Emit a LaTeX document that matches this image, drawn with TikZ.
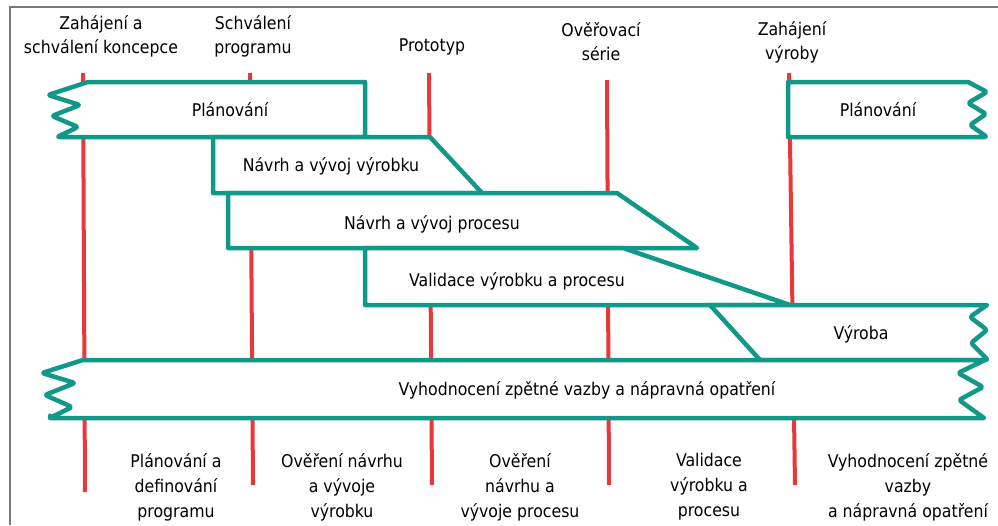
\documentclass[tikz,border=0pt]{standalone}
\usepackage{fontspec}
\setmainfont{DejaVu Sans Condensed}
\definecolor{bandgreen}{RGB}{18,152,136}
\definecolor{msred}{RGB}{232,56,58}
\definecolor{frame}{RGB}{120,120,120}
\begin{document}
\begin{tikzpicture}[x=1pt,y=-1pt,
  band/.style={draw=bandgreen, line width=4.5pt, fill=white, line join=round},
  zig/.style={rounded corners=2.5pt},
  milestone/.style={draw=msred, line width=4pt},
  lbl/.style={font=\fontsize{17.5}{24}\selectfont, align=center, inner sep=0pt},
  phase/.style={font=\fontsize{17.5}{25}\selectfont, align=center, inner sep=0pt},
  ]
\useasboundingbox (0,0) rectangle (998,525);
\fill[white] (0,0) rectangle (998,525);
\draw[frame, line width=2pt] (10,525) -- (10,7) -- (998,7);

% milestone lines
\coordinate (m1t) at (83,73);  \coordinate (m1b) at (85,492);
\coordinate (m2t) at (250,73); \coordinate (m2b) at (253,485);
\coordinate (m3t) at (429,73); \coordinate (m3b) at (432,485);
\coordinate (m4t) at (607,80); \coordinate (m4b) at (609,485);
\coordinate (m5t) at (789,73); \coordinate (m5b) at (795,485);
\foreach \m in {1,...,5} \draw[milestone] (m\m t) -- (m\m b);

% milestone names
\node[lbl] (ms1) at (101,36) {Zahájení a\\schválení koncepce};
\node[lbl] (ms2) at (253,36) {Schválení\\programu};
\node[lbl] (ms3) at (432,47) {Prototyp};
\node[lbl] (ms4) at (601,42) {Ověřovací\\série};
\node[lbl] (ms5) at (792,42) {Zahájení\\výroby};

% activity bands
\draw[band] (365,137) -- (365,82) -- (88,82)
  [zig] -- (48,95) -- (80,105) -- (52,116) -- (78,127) -- (57,137) [sharp corners] -- cycle;
\draw[band] (213,137) -- (430,137) -- (482,193) -- (213,193) -- cycle;
\draw[band] (228,193) -- (617,193) -- (697,248) -- (228,248) -- cycle;
\draw[band] (365,248) -- (623,248) -- (790,305) -- (365,305) -- cycle;
\draw[band] (760,360) -- (710,305) -- (987,305)
  [zig] -- (970,317) -- (987,330) -- (971,343) -- (988,360) [sharp corners] -- cycle;
\draw[band] (50,418) -- (984,418)
  [zig] -- (959,400) -- (983,387) -- (958,373) -- (985,360) [sharp corners] -- (83,360)
  [zig] -- (42,373) -- (75,383) -- (45,395) -- (72,407) -- (50,418) [sharp corners] -- cycle;
\draw[band] (788,137) -- (788,82) -- (968,82)
  [zig] -- (987,92) -- (968,103) -- (986,114) -- (970,125) -- (987,137) [sharp corners] -- cycle;

\node[lbl] (b1) at (230,110) {Plánování};
\node[lbl] (b2) at (331,166) {Návrh a vývoj výrobku};
\node[lbl] (b3) at (432,224) {Návrh a vývoj procesu};
\node[lbl] (b4) at (517,281) {Validace výrobku a procesu};
\node[lbl] (b5) at (861,334) {Výroba};
\node[lbl] (b6) at (587,390) {Vyhodnocení zpětné vazby a nápravná opatření};
\node[lbl] (b7) at (878,110) {Plánování};

% phase names
\node[phase] (p1) at (176,487) {Plánování a\\definování\\programu};
\node[phase] (p2) at (342,487) {Ověření návrhu\\a vývoje\\výrobku};
\node[phase] (p3) at (520,487) {Ověření\\návrhu a\\vývoje procesu};
\node[phase] (p4) at (709,487) {Validace\\výrobku a\\procesu};
\node[phase] (p5) at (908,487) {Vyhodnocení zpětné\\vazby\\a nápravná opatření};
\end{tikzpicture}
\end{document}
